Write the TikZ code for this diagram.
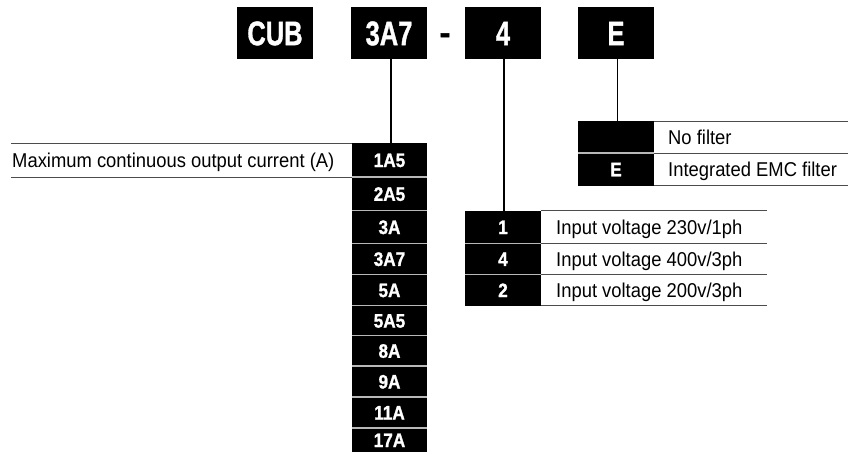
\documentclass[tikz,border=0pt]{standalone}
\usepackage{fontspec}
\setmainfont{Liberation Sans}
\newfontfamily\codefont{Liberation Sans}[BoldFeatures={FakeBold=1.3}]
\usepackage{graphicx}
\newcommand{\dtxt}[1]{\scalebox{0.92}[1]{#1}}
\newcommand{\ctxt}[1]{\scalebox{0.88}[1]{#1}}
\begin{document}
\begin{tikzpicture}[x=1pt,y=-1pt,
  topbox/.style={fill=black,text=white,minimum width=76pt,minimum height=52pt,inner sep=0pt,outer sep=0pt,font=\fontsize{34}{36}\codefont\bfseries,text height=24.3pt,text depth=0pt},
  codecell/.style={fill=black,text=white,minimum width=75pt,inner sep=0pt,outer sep=0pt,font=\fontsize{19.5}{22}\codefont\bfseries,text height=14pt,text depth=0pt},
  desc/.style={anchor=base west,inner sep=0pt,font=\fontsize{20}{24}\selectfont},
  rule/.style={draw=black!70,line width=1pt},
  sep/.style={draw=white!72!black,line width=1.2pt},
  link/.style={draw=black,line width=1.3pt}]
\useasboundingbox (0,0) rectangle (848,452);

% top code boxes
\node[topbox] (tcub)  at (275,33) {\scalebox{0.75}[1]{CUB}};
\node[topbox] (tamp)  at (389,33) {\scalebox{0.75}[1]{3A7}};
\node[topbox] (tvolt) at (503,33) {\scalebox{0.75}[1]{4}};
\node[topbox] (tfilt) at (616,33) {\scalebox{0.75}[1]{E}};
\node[anchor=base,inner sep=0pt,font=\fontsize{32}{34}\codefont\bfseries] (dash) at (445,43.6) {-};

% current column
\node[codecell,minimum height=34pt]   (c1)  at (389.5,160)    {\ctxt{1A5}};
\node[codecell,minimum height=33.7pt] (c2)  at (389.5,193.85) {\ctxt{2A5}};
\node[codecell,minimum height=32.6pt] (c3)  at (389.5,227)    {\ctxt{3A}};
\node[codecell,minimum height=31.2pt] (c4)  at (389.5,258.9)  {\ctxt{3A7}};
\node[codecell,minimum height=31.2pt] (c5)  at (389.5,290.1)  {\ctxt{5A}};
\node[codecell,minimum height=29.8pt] (c6)  at (389.5,320.6)  {\ctxt{5A5}};
\node[codecell,minimum height=30.5pt] (c7)  at (389.5,350.75) {\ctxt{8A}};
\node[codecell,minimum height=31pt]   (c8)  at (389.5,381.5)  {\ctxt{9A}};
\node[codecell,minimum height=31pt]   (c9)  at (389.5,412.5)  {\ctxt{11A}};
\node[codecell,minimum height=24pt]   (c10) at (389.5,440)    {\ctxt{17A}};
\foreach \n in {c1,c2,c3,c4,c5,c6,c7,c8,c9}
  \draw[sep] (\n.south west) -- (\n.south east);
\draw[rule] (c1.north west) -- ++(-341,0);
\draw[rule] (c1.south west) -- ++(-341,0);
\node[desc] (maxlbl) at (12,167.6) {\dtxt{Maximum continuous output current (A)}};

% voltage table
\node[codecell,minimum width=76pt,minimum height=32.6pt] (v1) at (503,227)   {\ctxt{1}};
\node[codecell,minimum width=76pt,minimum height=31.2pt] (v2) at (503,258.9) {\ctxt{4}};
\node[codecell,minimum width=76pt,minimum height=31.2pt] (v3) at (503,290.1) {\ctxt{2}};
\draw[sep] (v1.south west) -- (v1.south east);
\draw[sep] (v2.south west) -- (v2.south east);
\draw[rule] (v1.north east) -- ++(226,0);
\draw[rule] (v1.south east) -- ++(226,0);
\draw[rule] (v2.south east) -- ++(226,0);
\draw[rule] (v3.south east) -- ++(226,0);
\node[desc] (vd1) at (556,234.1) {\dtxt{Input voltage 230v/1ph}};
\node[desc] (vd2) at (556,266)   {\dtxt{Input voltage 400v/3ph}};
\node[desc] (vd3) at (556,297.2) {\dtxt{Input voltage 200v/3ph}};

% filter table
\node[codecell,minimum width=76pt,minimum height=32pt]   (f1) at (616,137)    {};
\node[codecell,minimum width=76pt,minimum height=32.5pt] (f2) at (616,169.25) {\ctxt{E}};
\draw[sep] (f1.south west) -- (f1.south east);
\draw[rule] (f1.north east) -- ++(194,0);
\draw[rule] (f1.south east) -- ++(194,0);
\draw[rule] (f2.south east) -- ++(194,0);
\node[desc] (fd1) at (668,144.1) {\dtxt{No filter}};
\node[desc] (fd2) at (668,176.4) {\dtxt{Integrated EMC filter}};

% connectors
\draw[link] ([xshift=2pt]tamp.south) -- ([xshift=2pt]tamp.south |- c1.north);
\draw[link] ([xshift=1pt]tvolt.south) -- ([xshift=1pt]tvolt.south |- v1.north);
\draw[link] ([xshift=1.5pt]tfilt.south) -- ([xshift=1.5pt]tfilt.south |- f1.north);
\end{tikzpicture}
\end{document}
